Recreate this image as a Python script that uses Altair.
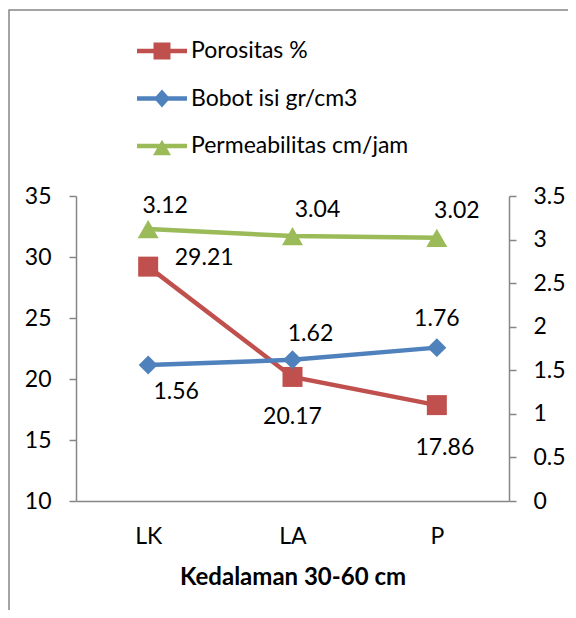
import altair as alt
import pandas as pd

# ---------------- data ----------------
categories = ["LK", "LA", "P"]
porositas = [29.21, 20.17, 17.86]
bobot_isi = [1.56, 1.62, 1.76]
permeabilitas = [3.12, 3.04, 3.02]
series_names = ["Porositas %", "Bobot isi gr/cm3", "Permeabilitas cm/jam"]
series_colors = ["#C0504D", "#4F81BD", "#9BBB59"]
left_ticks = [10, 15, 20, 25, 30, 35]
right_ticks = [0, 0.5, 1, 1.5, 2, 2.5, 3, 3.5]
x_title = "Kedalaman 30-60 cm"

# ---------------- styling ----------------
FONT = "Lato"
FS = 23
GRAY = "#868686"

# label offsets (dx, dy) per point, in category order
por_offsets = [(56, -9), (0, 40), (8, 43)]
bob_offsets = [(28, 27), (18, -26), (0, -29)]
per_offsets = [(17, -23), (25, -26), (20, -27)]

# legend symbols: a line with the marker through it
legend_paths = [
    "M-2,-0.18H2V0.18H-2Z M-0.68,-0.68H0.68V0.68H-0.68Z",
    "M-2,-0.18H2V0.18H-2Z M0,-0.72L0.64,0L0,0.72L-0.64,0Z",
    "M-2,-0.18H2V0.18H-2Z M0,-0.5L0.72,0.74L-0.72,0.74Z",
]


def make_df(values, name):
    return pd.DataFrame({"category": categories, "value": values, "series": name})


x_enc = alt.X(
    "category:N",
    sort=categories,
    scale=alt.Scale(type="point", domain=categories, padding=0.5),
    axis=alt.Axis(
        title=x_title,
        labelAngle=0,
        ticks=False,
        tickSize=0,
        grid=False,
        domainColor=GRAY,
        domainWidth=1.5,
        labelFont=FONT,
        labelFontSize=FS,
        labelColor="black",
        labelPadding=24,
        titleFont=FONT,
        titleFontSize=24,
        titleFontWeight="bold",
        titleColor="black",
        titleY=76,
        titleBaseline="middle",
    ),
)

common_axis = dict(
    title=None,
    grid=False,
    tickSize=7,
    tickColor=GRAY,
    tickWidth=1.5,
    domainColor=GRAY,
    domainWidth=1.5,
    labelFont=FONT,
    labelFontSize=FS,
    labelColor="black",
)

y_left = alt.Y(
    "value:Q",
    scale=alt.Scale(domain=[10, 35], nice=False, zero=False),
    axis=alt.Axis(orient="left", values=left_ticks, labelPadding=18, **common_axis),
)
y_right = alt.Y(
    "value:Q",
    scale=alt.Scale(domain=[0, 3.5], nice=False, zero=False),
    axis=alt.Axis(orient="right", values=right_ticks, labelPadding=17, format="~g", **common_axis),
)


def series_layers(df, y_enc, color, shape, size, offsets):
    base = alt.Chart(df).encode(x=x_enc, y=y_enc)
    line = base.mark_line(color=color, strokeWidth=4.5, strokeCap="round")
    pts = base.mark_point(shape=shape, size=size, filled=True, color=color, opacity=1, strokeWidth=0)
    texts = [
        base.transform_filter(alt.datum.category == c)
        .mark_text(dx=dx, dy=dy, font=FONT, fontSize=FS, color="black", baseline="middle", align="center")
        .encode(text=alt.Text("value:Q", format=".2f"))
        for c, (dx, dy) in zip(categories, offsets)
    ]
    return [line, pts] + texts


left_group = alt.layer(
    *series_layers(make_df(porositas, series_names[0]), y_left, series_colors[0], "square", 400, por_offsets)
)
right_group = alt.layer(
    *series_layers(make_df(bobot_isi, series_names[1]), y_right, series_colors[1], "diamond", 360, bob_offsets),
    *series_layers(make_df(permeabilitas, series_names[2]), y_right, series_colors[2], "triangle-up", 440, per_offsets),
)

legend_def = alt.Legend(
    title=None,
    orient="none",
    legendX=73.5,
    legendY=-157.5,
    direction="vertical",
    symbolSize=625,
    symbolStrokeWidth=0,
    labelOffset=16.5,
    rowPadding=22.5,
    padding=0,
    labelFont=FONT,
    labelFontSize=FS,
    labelColor="black",
    labelLimit=0,
)

legend_layer = (
    alt.Chart(pd.DataFrame({"series": series_names}))
    .transform_filter("false")
    .mark_point(filled=True, opacity=1)
    .encode(
        color=alt.Color("series:N", sort=series_names,
                        scale=alt.Scale(domain=series_names, range=series_colors), legend=legend_def),
        shape=alt.Shape("series:N", sort=series_names,
                        scale=alt.Scale(domain=series_names, range=legend_paths), legend=legend_def),
    )
)

frame_layer = (
    alt.Chart(pd.DataFrame({"k": [0]}))
    .mark_rect(fill="white", fillOpacity=0, stroke=GRAY, strokeWidth=1.5)
    .encode(x=alt.value(-67), x2=alt.value(520), y=alt.value(-186), y2=alt.value(450))
)

chart = (
    alt.layer(frame_layer, left_group, right_group, legend_layer)
    .resolve_scale(y="independent")
    .properties(
        width=433,
        height=305,
        padding={"left": 68, "top": 188, "right": 59, "bottom": 109},
        autosize=alt.AutoSizeParams(type="none"),
        background="white",
    )
    .configure_view(stroke=None)
)

chart.save("out.html", embed_options={"renderer": "svg", "actions": False})
